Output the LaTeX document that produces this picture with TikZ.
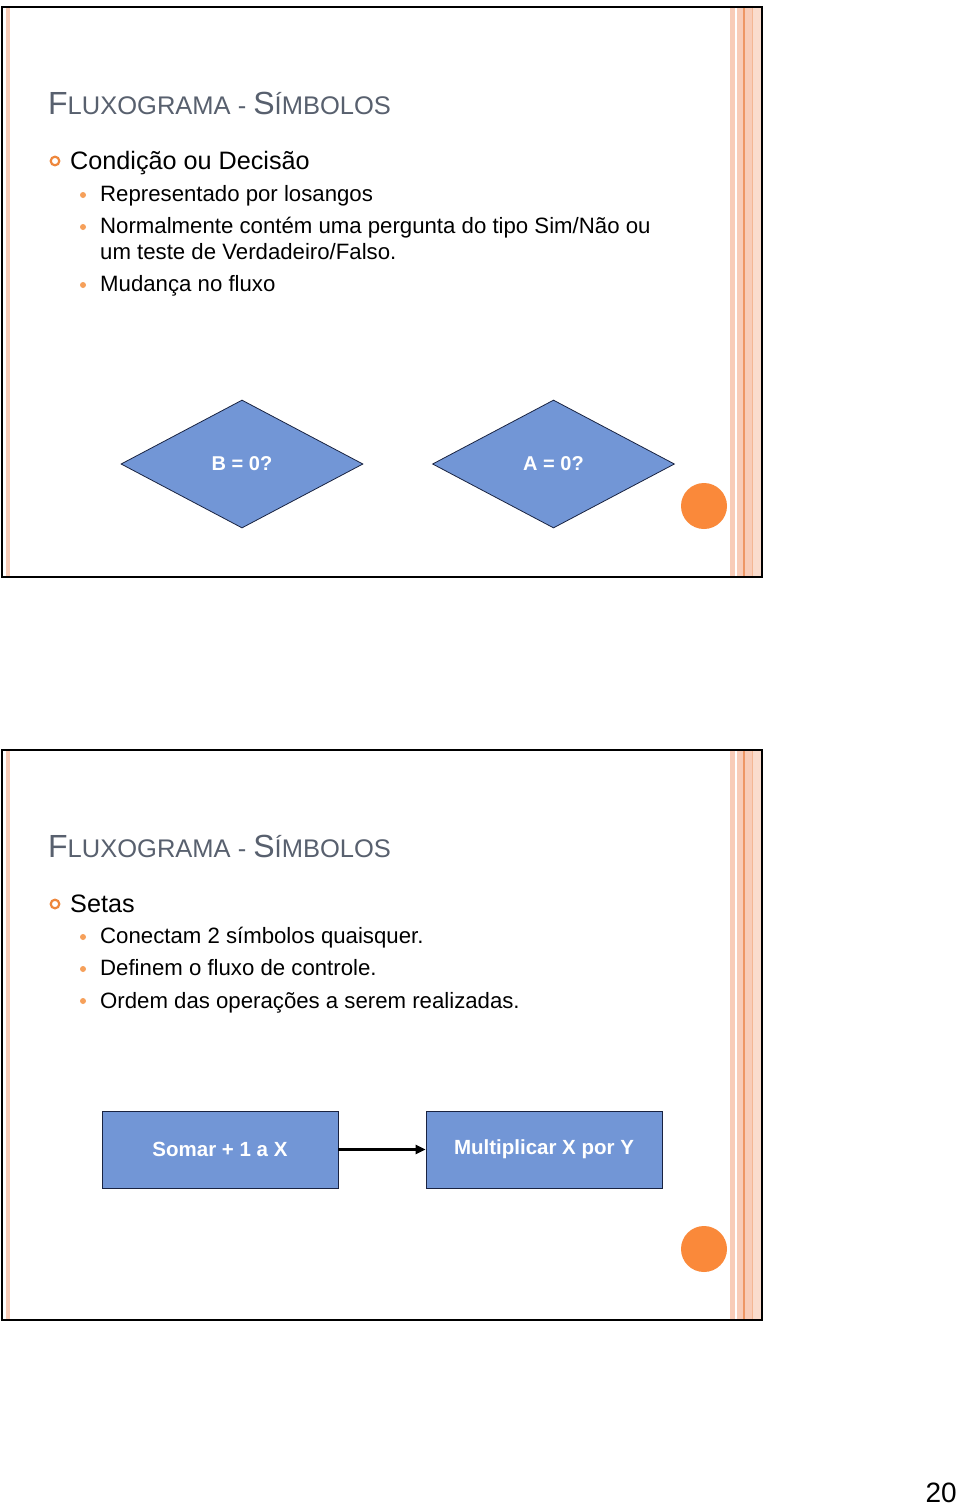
\documentclass[tikz,border=0pt]{standalone}
\usepackage{fontspec}
\setmainfont{Liberation Sans}
\usetikzlibrary{arrows.meta,shapes.geometric}
\definecolor{titlegray}{RGB}{88,96,110}
\definecolor{salmon}{RGB}{248,204,184}
\definecolor{salmonlight}{RGB}{250,220,205}
\definecolor{salmonline}{RGB}{238,150,100}
\definecolor{orangedot}{RGB}{250,137,58}
\definecolor{bulletorange}{RGB}{238,135,60}
\definecolor{subbullet}{RGB}{246,160,90}
\definecolor{shapeblue}{RGB}{114,150,214}
\definecolor{shapeborder}{RGB}{25,35,65}
\newcommand{\slidettl}{{\fontsize{32}{36}\selectfont F}{\fontsize{25.5}{30}\selectfont LUXOGRAMA - }{\fontsize{32}{36}\selectfont S}{\fontsize{25.5}{30}\selectfont ÍMBOLOS}}
\newcommand{\slideframe}[1]{%
  \begin{scope}[yshift=-#1pt]
    \fill[salmon] (6,7) rectangle (10,577);
    \fill[salmon] (730,7) rectangle (735,577);
    \fill[salmon] (737,7) rectangle (762,577);
    \fill[salmonlight] (752,7) rectangle (762,577);
    \fill[salmonline] (743,7) rectangle (745,577);
    \fill[salmonline!70] (752,7) rectangle (753,577);
    \draw[line width=2pt,black] (2,7) rectangle (762,577);
    \fill[orangedot] (704,506) circle (23);
  \end{scope}}
\tikzset{
  ttl/.style={anchor=base west,inner sep=0pt,text=titlegray},
  lvl1/.style={anchor=base west,inner sep=0pt,font=\fontsize{25.2}{30}\selectfont},
  lvl2/.style={anchor=base west,inner sep=0pt,font=\fontsize{22.2}{26}\selectfont},
  decision/.style={diamond,draw=shapeborder,line width=0.8pt,fill=shapeblue,inner sep=0pt,minimum width=242pt,minimum height=128pt,text=white,font=\bfseries\fontsize{20}{24}\selectfont},
  procbox/.style={rectangle,draw=shapeborder,line width=0.8pt,fill=shapeblue,inner sep=0pt,minimum width=236pt,minimum height=77pt,text=white,font=\bfseries\fontsize{20.5}{24}\selectfont},
  mainbullet/.style={draw=bulletorange,line width=2.2pt},
  subdot/.style={fill=subbullet}
}
\begin{document}
\begin{tikzpicture}[x=1pt,y=-1pt]
\useasboundingbox[fill=white] (0,0) rectangle (960,1505);
% slide 1
\slideframe{0}
\node[ttl] (t1) at (48,114.5) {\slidettl};
\draw[mainbullet] (55,161) circle (4.3);
\node[lvl1] (c1) at (70,169) {Condição ou Decisão};
\fill[subdot] (83,195) circle (3);
\node[lvl2] (s11) at (100,201.5) {Representado por losangos};
\fill[subdot] (83,227) circle (3);
\node[lvl2] (s12) at (100,233.5) {Normalmente contém uma pergunta do tipo Sim/Não ou};
\node[lvl2] (s12b) at (100,259.5) {um teste de Verdadeiro/Falso.};
\fill[subdot] (83,285) circle (3);
\node[lvl2] (s13) at (100,291.5) {Mudança no fluxo};
\node[decision] (d1) at (242,464) {B = 0?};
\node[decision] (d2) at (553.5,464) {A = 0?};
% slide 2
\slideframe{743}
\node[ttl] (t2) at (48,857.5) {\slidettl};
\draw[mainbullet] (55,904) circle (4.3);
\node[lvl1] (c2) at (70,912) {Setas};
\fill[subdot] (83,937) circle (3);
\node[lvl2] (s21) at (100,943.5) {Conectam 2 símbolos quaisquer.};
\fill[subdot] (83,969) circle (3);
\node[lvl2] (s22) at (100,975.5) {Definem o fluxo de controle.};
\fill[subdot] (83,1001) circle (3);
\node[lvl2] (s23) at (100,1008) {Ordem das operações a serem realizadas.};
\node[procbox] (b1) at (220,1149.5) {Somar + 1 a X};
\node[procbox] (b2) at (544,1149.5) {Multiplicar X por Y};
\draw[line width=3.2pt,-{Triangle[length=10pt,width=9pt]}] (b1) -- (b2);
% page number
\node[anchor=base east,inner sep=0pt,font=\fontsize{28}{32}\selectfont] (pg) at (957,1502) {20};
\end{tikzpicture}
\end{document}
